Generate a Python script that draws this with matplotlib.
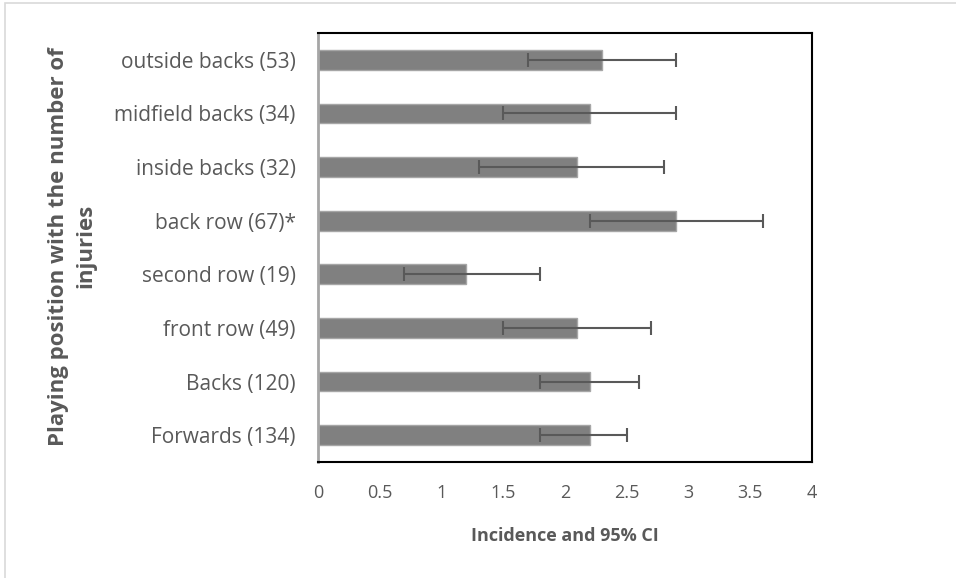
import numpy as np
from matplotlib import pyplot as plt
from matplotlib.patches import Rectangle

# positions bottom -> top
positions = ['Forwards (134)', 'Backs (120)', 'front row (49)', 'second row (19)',
             'back row (67)*', 'inside backs (32)', 'midfield backs (34)', 'outside backs (53)']
incidence = [2.2, 2.2, 2.1, 1.2, 2.9, 2.1, 2.2, 2.3]
ci_low = [1.8, 1.8, 1.5, 0.7, 2.2, 1.3, 1.5, 1.7]
ci_high = [2.5, 2.6, 2.7, 1.8, 3.6, 2.8, 2.9, 2.9]
x_ticks = [0, 0.5, 1, 1.5, 2, 2.5, 3, 3.5, 4]

text_col = '#595959'
plt.rcParams['font.family'] = ['Open Sans', 'DejaVu Sans']

fig = plt.figure(figsize=(9.56, 5.78), dpi=100)
ax = fig.add_axes([318 / 956, 1 - 462 / 578, (812 - 318) / 956, (462 - 33) / 578])

y = np.arange(len(positions))
inc = np.array(incidence)
err = [inc - np.array(ci_low), np.array(ci_high) - inc]

ax.barh(y, inc, height=0.37, color='#808080', edgecolor='#a6a6a6', linewidth=1, zorder=2)
ax.errorbar(inc, y, xerr=err, fmt='none', ecolor='#595959', elinewidth=1.5,
            capsize=5, capthick=1.5, zorder=3)

ax.set_xlim(0, 4)
ax.set_ylim(-0.5, len(positions) - 0.5)
ax.set_xticks(x_ticks)
ax.set_xticklabels([f'{t:g}' for t in x_ticks])
ax.set_yticks(y)
ax.set_yticklabels(positions)
ax.tick_params(axis='both', length=0, labelcolor=text_col)
ax.tick_params(axis='y', pad=16, labelsize=15)
ax.tick_params(axis='x', pad=16, labelsize=13)

for side in ['top', 'right', 'bottom']:
    ax.spines[side].set_color('black')
    ax.spines[side].set_linewidth(1.5)
ax.spines['left'].set_color('#a6a6a6')
ax.spines['left'].set_linewidth(2)

ax.set_xlabel('Incidence and 95% CI', fontsize=13, fontweight='bold', color=text_col, labelpad=18)
fig.text(0.076, 0.574, 'Playing position with the number of\ninjuries', rotation=90,
         ha='center', va='center', multialignment='center', linespacing=1.4,
         fontsize=16, fontweight='bold', color=text_col)

# chart area border (top and left visible)
fig.add_artist(Rectangle((5 / 956, -0.05), 1.2, 1.05 - 3 / 578, transform=fig.transFigure,
                         fill=False, edgecolor='#d9d9d9', linewidth=1.2))

fig.savefig('out.png', dpi=100)
